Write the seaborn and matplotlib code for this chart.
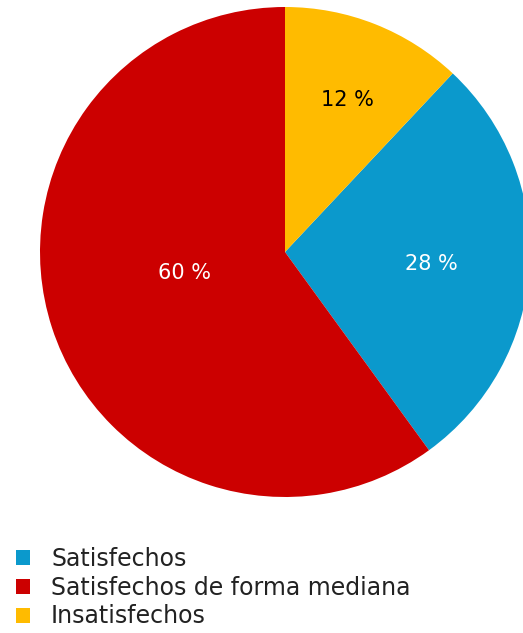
import numpy as np
import matplotlib
matplotlib.use("Agg")
import matplotlib.pyplot as plt
import seaborn as sns
from matplotlib.patches import Patch

# Data
categories = ["Satisfechos", "Satisfechos de forma mediana", "Insatisfechos"]
values = [28, 60, 12]
colors = ["#0b99cc", "#cc0000", "#ffbb00"]
label_colors = ["white", "white", "black"]
label_dist = [0.60, 0.42, 0.67]
label_shift = [-1.0, -6.3, -0.9]   # degrees, small nudge off the mid angle

sns.set_theme(style="white")
plt.rcParams['font.family'] = ['DejaVu Sans']

fig = plt.figure(figsize=(5.23, 6.33), dpi=100)
ax = fig.add_axes([0, 0, 1, 1])

cx, cy, r = 285, 633 - 252, 245
start = 90 - 360 * values[2] / sum(values)
wedges, _ = ax.pie(values, colors=colors, startangle=start, counterclock=False,
                   center=(cx, cy), radius=r, frame=True,
                   wedgeprops=dict(linewidth=0))
ax.set_xlim(0, 523)
ax.set_ylim(0, 633)
ax.set_aspect('equal')
ax.axis('off')

# percent labels inside the slices
for w, v, c, d, s in zip(wedges, values, label_colors, label_dist, label_shift):
    ang = np.deg2rad((w.theta1 + w.theta2) / 2 + s)
    ax.text(cx + d * r * np.cos(ang), cy + d * r * np.sin(ang), f"{v} %",
            ha='center', va='center', color=c, fontsize=15)

handles = [Patch(facecolor=col, edgecolor='none') for col in colors]
fig.legend(handles, categories, loc='upper left', bbox_to_anchor=(0.03, 0.136),
           frameon=False, fontsize=17, handlelength=0.6, handleheight=0.6,
           handletextpad=0.9, labelspacing=0.2, borderpad=0, borderaxespad=0,
           labelcolor='#222222')

fig.savefig("out.png", dpi=100)
